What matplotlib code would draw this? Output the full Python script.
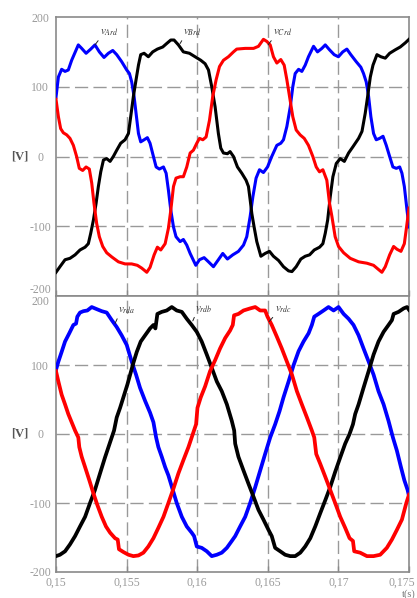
import matplotlib
matplotlib.use("Agg")
import matplotlib.pyplot as plt
import matplotlib.transforms as mtransforms
import numpy as np

T0 = 0.15  # s, start of the window; times below are in ms after T0

# ---------------- top panel: v_Ard, v_Brd, v_Crd ----------------
top_a_ms = [0, 0.17, 0.40, 0.64, 0.87, 1.11, 1.58, 1.82, 2.13, 2.46, 2.76, 3.07, 3.40, 3.71, 4.02, 4.30,
            4.65, 5.01, 5.2, 5.36, 5.53, 5.67, 5.84, 6.00, 6.24, 6.47, 6.66, 6.90, 7.09, 7.32, 7.61, 7.80,
            7.96, 8.13, 8.32, 8.50, 8.79, 9.02, 9.26, 9.50, 9.90, 10.16, 10.49, 10.80, 11.15, 11.5, 11.81,
            12.14, 12.52, 12.92, 13.28, 13.51, 13.75, 13.94, 14.17, 14.41, 14.69, 14.98, 15.28, 15.64,
            15.92, 16.11, 16.35, 16.59, 16.77, 16.94, 17.18, 17.41, 17.65, 17.88, 18.24, 18.52, 18.83,
            19.07, 19.37, 19.70, 20.0, 20.31, 20.60, 20.88, 21.26, 21.59, 21.78, 21.97, 22.14, 22.30,
            22.49, 22.68, 22.92, 23.16, 23.39, 23.63, 23.86, 24.10, 24.34, 24.50, 24.67, 24.86, 25.0]
top_a_v = [85, 114, 125, 122, 124, 138, 160, 155, 148, 154, 160, 150, 142, 148, 152, 146,
           136, 124, 119, 107, 86, 62, 33, 21, 24, 27, 19, 0, -15, -18, -15, -24,
           -48, -77, -101, -115, -122, -119, -127, -139, -156, -148, -145, -151, -158, -148, -139,
           -147, -141, -136, -127, -115, -86, -58, -31, -19, -23, -15, 0, 16,
           19, 24, 43, 71, 100, 119, 125, 122, 131, 143, 158, 150, 155,
           160, 153, 146, 143, 150, 154, 146, 136, 128, 119, 107, 86, 57,
           33, 24, 26, 29, 16, 0, -15, -17, -15, -24, -43, -77, -101]

top_b_ms = [0, 0.28, 0.64, 0.99, 1.35, 1.70, 2.06, 2.29, 2.46, 2.65, 2.84, 3.00, 3.17, 3.36, 3.59, 3.83,
            4.06, 4.30, 4.58, 4.89, 5.13, 5.29, 5.48, 5.67, 5.84, 6.00, 6.24, 6.54, 6.85, 7.18, 7.56,
            7.84, 8.13, 8.36, 8.67, 9.02, 9.45, 9.85, 10.25, 10.56, 10.80, 11.03, 11.27, 11.5, 11.67,
            11.86, 12.14, 12.33, 12.57, 12.85, 13.16, 13.46, 13.63, 13.75, 13.87, 14.03, 14.22, 14.51,
            14.81, 15.12, 15.40, 15.76, 16.11, 16.47, 16.71, 17.01, 17.34, 17.65, 17.96, 18.29, 18.67,
            18.90, 19.07, 19.24, 19.42, 19.61, 19.85, 20.13, 20.42, 20.72, 21.03, 21.43, 21.67, 21.90,
            22.07, 22.26, 22.45, 22.73, 23.01, 23.32, 23.63, 24.03, 24.38, 24.74, 25.0]
top_b_v = [-166, -158, -148, -146, -141, -134, -130, -125, -110, -91, -67, -43, -22, -5, -3, -7,
           0, 9, 19, 24, 33, 57, 86, 110, 131, 146, 148, 143, 150, 154, 157,
           162, 167, 167, 160, 150, 148, 143, 138, 133, 124, 100, 71, 33, 12,
           5, 4, 7, 0, -15, -24, -34, -43, -62, -82, -101, -122, -143,
           -139, -136, -143, -149, -158, -164, -165, -158, -147, -143, -141, -134, -130,
           -125, -110, -91, -58, -29, -10, -3, -7, 5, 14, 26, 36, 62,
           86, 114, 131, 146, 143, 141, 148, 153, 157, 163, 168]

top_c_ms = [0, 0.17, 0.33, 0.52, 0.76, 0.99, 1.23, 1.46, 1.65, 1.89, 2.13, 2.36, 2.53, 2.69, 2.88, 3.07,
            3.31, 3.59, 3.95, 4.42, 4.89, 5.36, 5.76, 6.07, 6.43, 6.66, 6.95, 7.18, 7.42, 7.73, 7.96,
            8.13, 8.32, 8.50, 8.79, 9.02, 9.26, 9.50, 9.73, 9.97, 10.16, 10.4, 10.63, 10.87, 11.10,
            11.34, 11.58, 11.86, 12.21, 12.57, 12.80, 13.40, 13.99, 14.34, 14.69, 14.93, 15.17, 15.40,
            15.64, 15.92, 16.16, 16.35, 16.54, 16.77, 17.01, 17.29, 17.58, 17.88, 18.19, 18.43, 18.66,
            18.90, 19.18, 19.37, 19.54, 19.77, 20.01, 20.37, 20.84, 21.43, 22.02, 22.49, 22.84, 23.08,
            23.32, 23.63, 23.91, 24.15, 24.43, 24.67, 24.86, 25.0]
top_c_v = [82, 57, 40, 34, 31, 26, 16, 0, -17, -20, -15, -18, -38, -67, -96, -115,
           -129, -138, -144, -151, -154, -154, -156, -160, -166, -159, -141, -130, -134, -125, -103,
           -77, -43, -31, -29, -29, -15, 5, 9, 19, 26, 24, 28, 52, 86,
           110, 129, 138, 143, 150, 154, 155, 155, 158, 168, 165, 160, 143,
           134, 139, 131, 110, 86, 57, 38, 31, 26, 16, 0, -15, -22,
           -19, -34, -67, -86, -115, -129, -138, -146, -151, -153, -156, -162, -166,
           -158, -141, -129, -133, -136, -125, -96, -74]

# ---------------- bottom panel: v_rda, v_rdb, v_rdc ----------------
bot_a_ms = [0, 0.17, 0.40, 0.64, 0.94, 1.23, 1.42, 1.51, 1.70, 1.94, 2.22, 2.53, 2.88, 3.24, 3.59, 3.95,
            4.30, 4.65, 5.01, 5.36, 5.67, 5.95, 6.31, 6.66, 6.90, 7.09, 7.25, 7.49, 7.73, 7.96, 8.27,
            8.55, 8.91, 9.26, 9.61, 9.78, 9.97, 10.32, 10.68, 11.03, 11.39, 11.74, 12.10, 12.45, 12.69,
            13.04, 13.40, 13.75, 14.11, 14.46, 14.81, 15.17, 15.52, 15.83, 16.11, 16.47, 16.83, 17.18,
            17.53, 17.89, 18.12, 18.29, 18.59, 18.95, 19.30, 19.66, 20.01, 20.37, 20.72, 21.07, 21.43,
            21.78, 22.14, 22.49, 22.84, 23.20, 23.55, 23.86, 24.14, 24.43, 24.67, 24.90, 25.0]
bot_a_v = [93, 105, 119, 134, 146, 158, 160, 170, 176, 178, 179, 184, 181, 178, 176, 165,
           155, 143, 129, 105, 86, 67, 48, 31, 17, -5, -19, -33, -48, -60, -81,
           -100, -120, -134, -143, -148, -163, -165, -170, -177, -175, -172, -165, -155, -148,
           -134, -120, -100, -77, -53, -29, -5, 14, 33, 53, 76, 100, 120,
           134, 146, 158, 170, 174, 179, 184, 179, 184, 174, 167, 158, 143,
           124, 105, 86, 62, 43, 19, -5, -24, -48, -67, -81, -90]

bot_b_ms = [0, 0.28, 0.64, 0.99, 1.35, 1.70, 2.06, 2.41, 2.76, 3.12, 3.47, 3.83, 4.11, 4.30, 4.54, 4.77,
            5.06, 5.25, 5.48, 5.72, 6.00, 6.31, 6.66, 6.90, 7.04, 7.18, 7.49, 7.84, 8.20, 8.55, 8.91,
            9.26, 9.61, 9.97, 10.32, 10.68, 11.03, 11.39, 11.74, 12.10, 12.45, 12.62, 12.69, 12.92,
            13.28, 13.63, 13.99, 14.34, 14.69, 15.05, 15.28, 15.52, 15.88, 16.23, 16.59, 16.94, 17.30,
            17.65, 18.01, 18.36, 18.71, 19.07, 19.42, 19.77, 20.13, 20.48, 20.79, 21.03, 21.19, 21.43,
            21.78, 22.14, 22.49, 22.84, 23.20, 23.55, 23.79, 23.91, 24.26, 24.62, 24.86, 25.0]
bot_b_v = [-177, -175, -170, -160, -148, -134, -120, -100, -81, -57, -34, -12, 5, 24, 38, 53,
           72, 86, 103, 119, 134, 143, 153, 158, 153, 174, 177, 179, 184, 179, 177,
           167, 158, 148, 134, 115, 96, 76, 62, 43, 19, 5, -14, -33,
           -53, -72, -91, -110, -124, -139, -148, -165, -170, -175, -177, -177, -172,
           -163, -151, -134, -115, -96, -77, -55, -34, -14, 0, 14, 29, 43,
           67, 91, 115, 134, 148, 158, 165, 174, 177, 182, 184, 180]

bot_c_ms = [0, 0.17, 0.40, 0.64, 0.87, 1.11, 1.35, 1.58, 1.65, 1.82, 2.06, 2.36, 2.65, 2.93, 3.24, 3.54,
            3.83, 4.18, 4.37, 4.46, 4.77, 5.13, 5.48, 5.84, 6.19, 6.54, 6.90, 7.25, 7.61, 7.96, 8.32,
            8.67, 9.02, 9.38, 9.69, 9.92, 10.02, 10.25, 10.56, 10.91, 11.27, 11.62, 11.98, 12.33, 12.52,
            12.61, 12.92, 13.28, 13.75, 14.11, 14.46, 14.81, 14.98, 15.28, 15.64, 15.99, 16.35, 16.71,
            17.06, 17.41, 17.77, 18.12, 18.29, 18.43, 18.71, 19.07, 19.42, 19.77, 20.13, 20.48, 20.79,
            21.03, 21.12, 21.54, 22.02, 22.49, 22.96, 23.43, 23.79, 24.14, 24.50, 24.81, 25.0]
bot_c_v = [91, 76, 57, 43, 29, 17, 5, -5, -19, -33, -48, -67, -86, -103, -120, -134,
           -143, -151, -153, -167, -171, -175, -177, -176, -172, -163, -151, -136, -120, -100, -79,
           -57, -38, -19, 0, 14, 38, 53, 69, 91, 107, 124, 139, 150, 158,
           172, 174, 179, 182, 184, 179, 179, 170, 158, 141, 124, 105, 86,
           62, 43, 24, 5, -5, -29, -43, -62, -81, -100, -120, -136, -151,
           -155, -170, -172, -177, -177, -175, -165, -153, -139, -124, -100, -88]

x_ticks = [0.15, 0.155, 0.16, 0.165, 0.17, 0.175]
x_tick_labels = ["0,15", "0,155", "0,16", "0,165", "0,17", "0,175"]
y_ticks = [-200, -100, 0, 100, 200]
y_tick_labels = ["-200", "-100", "0", "100", "200"]

top_labels = [r"$v_{Ard}$", r"$v_{Brd}$", r"$v_{Crd}$"]
top_label_text = [(0.15312, 170), (0.15900, 170), (0.16538, 170)]
top_label_tip = [(0.15276, 160), (0.15879, 162), (0.16502, 160)]
bot_labels = [r"$v_{rda}$", r"$v_{rdb}$", r"$v_{rdc}$"]
bot_label_text = [(0.15439, 171), (0.15985, 173), (0.16552, 173)]
bot_label_tip = [(0.15418, 160), (0.15969, 164), (0.16510, 163)]

# ---------------- drawing ----------------
plt.rcParams["mathtext.fontset"] = "stix"
SERIF = "Liberation Serif"
GRAY = "#9a9a9a"
SPINE = "#8a8a8a"

fig = plt.figure(figsize=(4.17, 5.98), dpi=100)
ax_top = fig.add_axes([56 / 417, 1 - 296 / 598, 353 / 417, 279 / 598])
ax_bot = fig.add_axes([56 / 417, 1 - 572 / 598, 353 / 417, 276 / 598])


def ms_to_s(ms):
    return T0 + np.asarray(ms) * 1e-3


def style(ax, show_x):
    ax.set_xlim(0.15, 0.175)
    ax.set_ylim(-200, 200)
    ax.set_xticks(x_ticks)
    ax.set_yticks(y_ticks)
    ax.set_yticklabels(y_tick_labels, fontfamily=SERIF, fontsize=8.5, color=GRAY)
    for lbl in ax.get_yticklabels():
        lbl.set_horizontalalignment("center")
    ax.tick_params(axis="y", length=0, pad=11.5)
    ax.tick_params(axis="x", direction="in", length=4, width=1, color=SPINE, pad=3.5)
    if show_x:
        ax.set_xticklabels(x_tick_labels, fontfamily=SERIF, fontsize=8.5, color=GRAY)
    else:
        ax.set_xticklabels([])
    for s in ax.spines.values():
        s.set_color(SPINE)
        s.set_linewidth(1.2)
    for xv in x_ticks[1:-1]:
        ax.axvline(xv, color="#999999", lw=1.0, ls=(0, (9.5, 3.8)), zorder=1)
    for yv in y_ticks[1:-1]:
        ax.axhline(yv, color="#999999", lw=1.0, ls=(0, (9.5, 3.8)), zorder=1)
    ax.text(-0.102, 0.5, "[V]", transform=ax.transAxes, ha="center", va="center",
            fontfamily=SERIF, fontsize=9, fontweight="bold", color="#555555")


style(ax_top, False)
style(ax_bot, True)

# separate the two labels that meet at the panel boundary, as in the reference
ax_top.get_yticklabels()[0].set_verticalalignment("bottom")
ax_bot.get_yticklabels()[-1].set_verticalalignment("top")
# pull the last x label inside the figure
last = ax_bot.get_xticklabels()[-1]
last.set_transform(last.get_transform() + mtransforms.ScaledTranslation(-7 / 100, 0, fig.dpi_scale_trans))

ax_top.plot(ms_to_s(top_a_ms), top_a_v, color="#0000ff", lw=2.2, zorder=3)
ax_top.plot(ms_to_s(top_b_ms), top_b_v, color="#000000", lw=2.2, zorder=3)
ax_top.plot(ms_to_s(top_c_ms), top_c_v, color="#ff0000", lw=2.2, zorder=3)

ax_bot.plot(ms_to_s(bot_a_ms), bot_a_v, color="#0000ff", lw=2.7, zorder=3)
ax_bot.plot(ms_to_s(bot_b_ms), bot_b_v, color="#000000", lw=2.7, zorder=3)
ax_bot.plot(ms_to_s(bot_c_ms), bot_c_v, color="#ff0000", lw=2.7, zorder=3)

for ax, labels, txt, tip in [(ax_top, top_labels, top_label_text, top_label_tip),
                             (ax_bot, bot_labels, bot_label_text, bot_label_tip)]:
    for lab, (tx, ty), (px, py) in zip(labels, txt, tip):
        ax.annotate(lab, xy=(px, py), xytext=(tx, ty), ha="left", va="bottom",
                    fontsize=8, color="#333333", zorder=5,
                    arrowprops=dict(arrowstyle="-", color="#222222", lw=0.7,
                                    shrinkA=0, shrinkB=0, relpos=(0.05, 0.1)))

fig.text(416 / 417, -0.001, "t(s)", ha="right", va="bottom",
         fontfamily=SERIF, fontsize=7.5, color="#777777")

fig.savefig("out.png", dpi=100)
